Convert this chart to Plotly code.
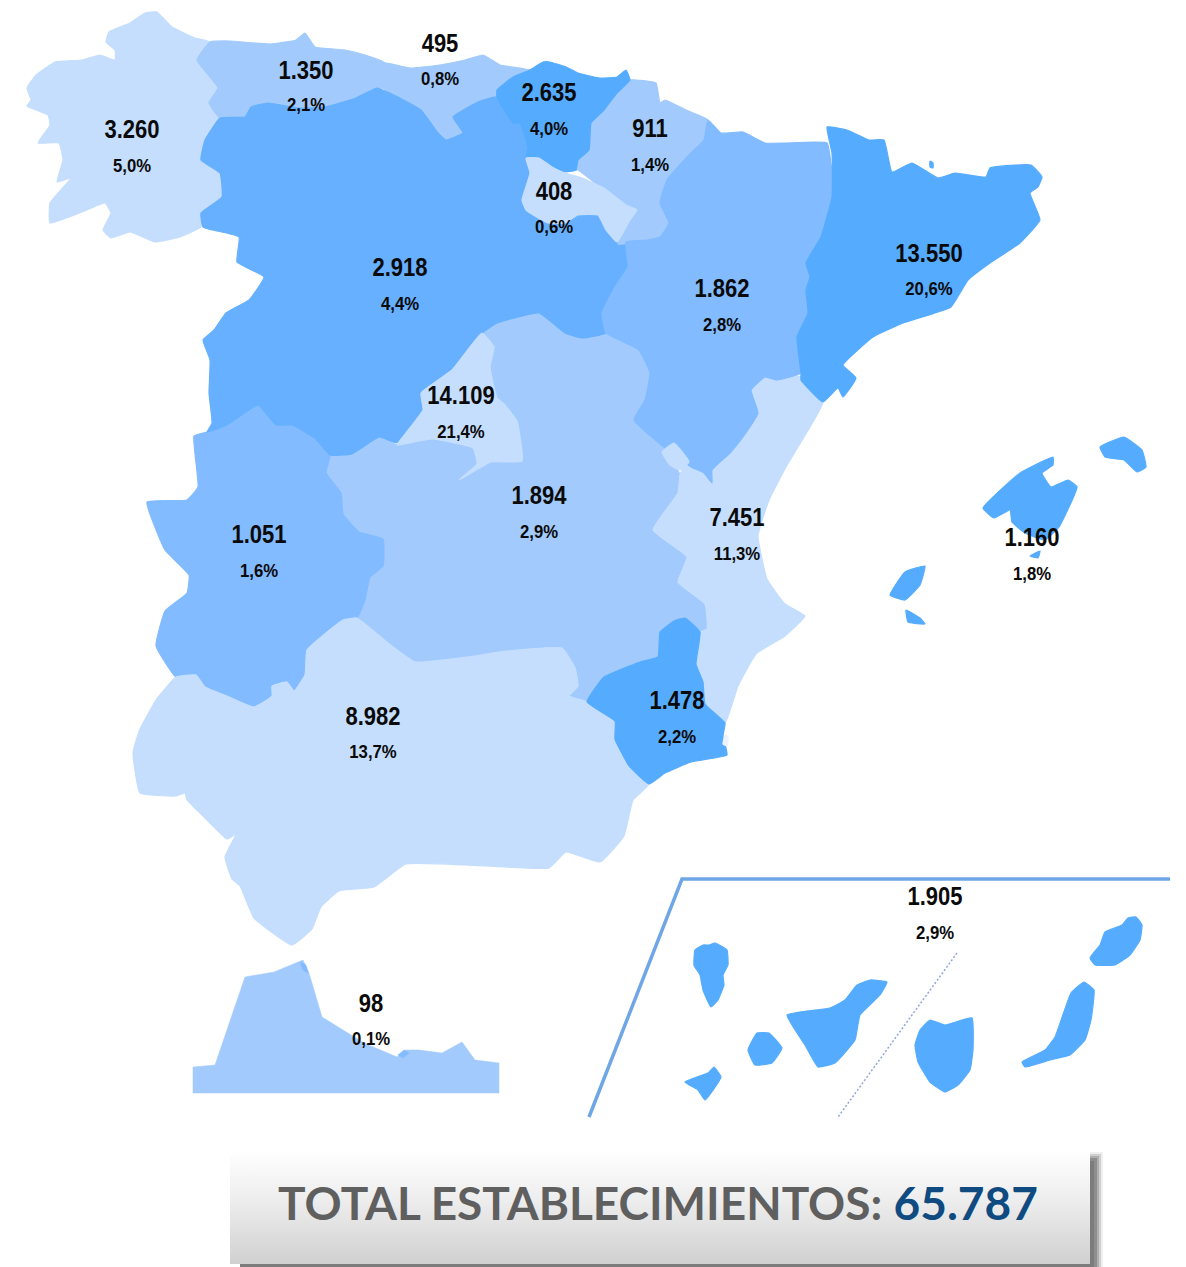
import plotly.graph_objects as go

# ---- values ----
regions = ["Galicia", "Asturias", "Cantabria", "País Vasco", "Navarra", "La Rioja", "Castilla y León",
           "Aragón", "Cataluña", "Madrid", "Castilla-La Mancha", "Extremadura", "C. Valenciana",
           "Baleares", "Murcia", "Andalucía", "Ceuta y Melilla", "Canarias"]
value_labels = ["3.260", "1.350", "495", "2.635", "911", "408", "2.918", "1.862", "13.550", "14.109",
                "1.894", "1.051", "7.451", "1.160", "1.478", "8.982", "98", "1.905"]
share_labels = ["5,0%", "2,1%", "0,8%", "4,0%", "1,4%", "0,6%", "4,4%", "2,8%", "20,6%", "21,4%",
                "2,9%", "1,6%", "11,3%", "1,8%", "2,2%", "13,7%", "0,1%", "2,9%"]
label_x = [132, 306, 440, 549, 650, 554, 400, 722, 929, 461, 539, 259, 737, 1032, 677, 373, 371, 935]
value_y = [132, 73, 46, 95, 131, 194, 270, 291, 256, 398, 498, 537, 520, 540, 703, 719, 1006, 899]
share_y = [167, 106, 80, 130, 166, 228, 305, 326, 290, 433, 533, 572, 555, 575, 738, 753, 1040, 934]

total_label = "TOTAL ESTABLECIMIENTOS:"
total_value = "65.787"

# ---- outlines in the picture's own units ----
galicia = [(157,12),(145,13),(130,23),(109,32),(106,42),(115,50),(115,60),(100,55),(82,60),(55,62),(36,75),(27,88),(31,100),(27,106),(48,115),(50,125),(38,143),(59,143),(63,160),(57,182),(71,178),(50,203),(50,223),(82,212),(105,203),(111,213),(103,230),(111,238),(130,232),(155,242),(180,237),(201,227),(201,213),(222,197),(220,173),(201,160),(205,140),(220,118),(209,103),(218,88),(197,60),(210,42),(195,38),(172,27)]
asturias = [(197,60),(210,42),(230,41),(270,44),(296,40),(305,33),(315,47),(345,50),(365,55),(385,63),(383,88),(377,88),(356,98),(325,107),(298,108),(268,103),(251,107),(245,117),(220,118),(209,103),(218,88)]
cantabria = [(383,63),(410,68),(440,65),(465,60),(483,55),(500,65),(530,70),(513,77),(497,90),(497,97),(478,102),(453,117),(463,133),(446,140),(438,133),(421,110),(398,97),(383,88)]
pais_vasco = [(530,70),(543,62),(550,62),(566,67),(578,73),(600,78),(617,77),(626,70),(630,80),(617,93),(604,110),(591,123),(589,150),(578,160),(576,170),(563,172),(552,167),(539,158),(526,158),(528,147),(520,123),(513,123),(497,97),(497,90),(513,77)]
navarra = [(630,80),(656,83),(660,103),(665,100),(686,110),(708,120),(704,140),(691,153),(667,180),(660,203),(669,223),(660,237),(647,240),(618,244),(630,215),(626,205),(604,190),(578,170),(576,170),(578,160),(589,150),(591,123),(604,110),(617,93)]
rioja = [(526,158),(539,158),(552,167),(565,173),(582,178),(604,188),(626,205),(637,210),(630,220),(617,242),(606,230),(598,215),(578,215),(565,223),(548,223),(526,210),(522,200),(530,173)]
cyl = [(220,118),(245,117),(251,107),(268,103),(298,108),(325,107),(356,98),(377,88),(398,97),(421,110),(438,133),(446,140),(463,133),(453,117),(478,102),(497,97),(513,123),(520,123),(528,147),(526,158),(530,173),(522,200),(526,210),(548,223),(565,223),(578,215),(598,215),(606,230),(617,242),(626,242),(628,267),(615,287),(602,313),(606,333),(582,338),(565,333),(539,313),(497,323),(482,333),(452,370),(421,393),(423,410),(398,443),(379,437),(352,454),(330,455),(316,439),(292,425),(276,425),(258,405),(227,425),(207,432),(212,423),(209,393),(210,360),(203,340),(214,330),(226,313),(249,300),(264,277),(237,262),(239,237),(203,227),(201,213),(222,197),(220,173),(201,160),(205,140)]
aragon = [(708,120),(721,133),(743,132),(765,143),(786,143),(827,143),(832,173),(832,197),(821,237),(806,263),(810,277),(806,290),(808,313),(797,337),(801,373),(777,380),(765,377),(751,390),(758,413),(743,437),(730,453),(712,470),(712,483),(704,473),(691,467),(665,448),(634,420),(645,400),(650,373),(639,350),(606,333),(602,313),(615,287),(628,267),(626,242),(647,240),(660,237),(669,223),(660,203),(667,180),(691,153),(704,140)]
cataluna = [(827,127),(847,130),(869,140),(884,140),(892,172),(912,163),(938,178),(955,173),(986,177),(990,168),(1031,165),(1042,177),(1038,187),(1030,193),(1040,220),(1020,243),(990,263),(968,280),(951,307),(903,323),(873,337),(843,365),(856,378),(843,397),(838,388),(823,402),(801,380),(801,373),(797,337),(808,313),(806,290),(810,277),(806,263),(821,237),(832,197),(832,153)]
medes = [(930,161),(933,163),(933,168),(930,167)]
madrid = [(482,333),(494,347),(490,367),(497,398),(504,404),(517,421),(522,461),(491,462),(459,480),(477,464),(473,448),(432,439),(397,445),(398,443),(423,410),(421,393),(452,370)]
clm = [(397,445),(379,437),(352,454),(330,455),(326,473),(341,493),(343,514),(359,532),(383,539),(383,566),(370,577),(365,600),(357,618),(388,643),(415,662),(468,657),(499,652),(562,648),(575,668),(578,686),(569,696),(587,702),(604,677),(640,662),(658,657),(660,632),(674,621),(685,618),(700,632),(707,629),(705,604),(678,582),(687,557),(653,530),(678,493),(680,475),(665,448),(634,420),(645,400),(650,373),(639,350),(606,333),(582,338),(565,333),(539,313),(497,323),(482,333),(470,370),(450,420)]
extremadura = [(258,405),(276,425),(292,425),(316,439),(330,455),(326,473),(341,493),(343,514),(359,532),(383,539),(383,566),(370,577),(365,600),(357,618),(343,620),(307,650),(305,675),(294,691),(287,682),(272,686),(272,696),(254,707),(227,696),(205,687),(196,675),(176,677),(156,646),(165,611),(187,593),(189,575),(165,550),(147,502),(187,500),(198,487),(194,436),(207,432),(227,425)]
valencia = [(801,377),(823,402),(804,437),(786,467),(769,500),(758,536),(767,579),(785,604),(805,616),(785,636),(756,654),(738,686),(725,723),(705,704),(703,682),(696,664),(700,632),(707,629),(705,604),(678,582),(687,557),(653,530),(678,493),(680,475),(686,462),(705,462),(730,445),(743,430),(750,410),(751,390),(765,372),(777,375)]
ademuz = [(662,452),(674,443),(689,462),(680,470),(670,465)]
murcia = [(685,618),(700,632),(696,664),(703,682),(705,704),(725,723),(723,736),(727,755),(691,762),(665,773),(649,784),(629,766),(615,739),(615,721),(587,702),(604,677),(640,662),(658,657),(660,632),(674,621)]
mar_menor = [(725,735),(728,737),(727,746),(723,744)]
andalucia = [(176,677),(156,700),(140,729),(133,752),(140,793),(176,796),(185,793),(187,800),(205,818),(227,839),(236,834),(225,857),(232,879),(240,886),(254,918),(292,945),(312,929),(321,907),(339,891),(374,887),(406,864),(486,866),(549,868),(566,852),(600,862),(624,836),(633,800),(649,784),(629,766),(615,739),(615,721),(587,702),(569,696),(578,686),(575,668),(562,648),(499,652),(468,657),(415,662),(388,643),(357,618),(343,620),(307,650),(305,675),(294,691),(287,682),(272,686),(272,696),(254,707),(227,696),(205,687),(196,675)]
ceuta_melilla = [(193,1067),(215,1065),(245,977),(274,972),(303,960),(309,973),(322,1017),(364,1043),(397,1057),(405,1050),(419,1050),(442,1053),(462,1042),(475,1060),(499,1063),(499,1093),(193,1093)]
ceuta_spot = [(300,962),(306,965),(308,973),(303,970)]
melilla_spot = [(398,1055),(404,1050),(409,1053),(403,1058)]
mallorca = [(1053,457),(1020,473),(983,508),(994,518),(1010,510),(1012,522),(1025,533),(1045,540),(1059,527),(1077,487),(1068,480),(1051,487),(1042,473),(1053,465)]
menorca = [(1100,447),(1124,437),(1142,450),(1146,467),(1137,472),(1124,460),(1105,457)]
ibiza = [(890,595),(905,572),(925,566),(920,585),(905,600)]
formentera = [(906,610),(920,618),(925,624),(908,622)]
cabrera = [(1030,556),(1040,551),(1038,558)]
la_palma = [(695,950),(703,945),(709,945),(715,943),(727,950),(728,965),(723,975),(724,985),(718,1000),(711,1007),(703,990),(700,975),(694,965)]
el_hierro = [(685,1082),(708,1073),(714,1067),(721,1077),(705,1100),(698,1090)]
la_gomera = [(757,1033),(769,1033),(782,1048),(772,1063),(755,1065),(748,1050)]
tenerife = [(787,1015),(830,1008),(845,1000),(857,985),(870,980),(887,982),(880,995),(860,1015),(855,1040),(835,1063),(818,1067),(805,1045)]
gran_canaria = [(930,1020),(945,1025),(972,1018),(973,1050),(970,1070),(958,1085),(945,1092),(930,1082),(918,1062),(915,1045),(920,1030)]
fuerteventura = [(1084,982),(1094,990),(1091,1020),(1085,1040),(1070,1055),(1050,1060),(1025,1067),(1022,1062),(1045,1050),(1055,1037),(1071,993)]
lanzarote = [(1136,917),(1142,925),(1140,940),(1130,955),(1115,965),(1095,965),(1090,958),(1100,945),(1105,932),(1122,925),(1128,918)]
inset_frame = [(589,1117),(682,879),(1170,879)]
inset_divider = [(957,953),(838,1117)]
panel = [(230,1150),(1090,1150),(1090,1264),(230,1264)]

TONE1, TONE2, TONE3, TONE4, TONE5 = "#C5DEFE", "#A2CAFD", "#82BBFF", "#66B0FF", "#55ACFF"
shapes_in_order = [
    (clm, TONE2), (extremadura, TONE3), (andalucia, TONE1), (galicia, TONE1), (asturias, TONE2),
    (cantabria, TONE2), (cyl, TONE4), (valencia, TONE1), (navarra, TONE2), (aragon, TONE3), (cataluna, TONE5),
    (medes, TONE5), (pais_vasco, TONE5), (rioja, TONE1), (madrid, TONE1), (ademuz, TONE1),
    (murcia, TONE5), (mar_menor, "#EAF3FF"), (mallorca, TONE5), (menorca, TONE5), (ibiza, TONE5), (formentera, TONE5),
    (cabrera, TONE5), (la_palma, TONE5), (el_hierro, TONE5), (la_gomera, TONE5),
    (tenerife, TONE5), (gran_canaria, TONE5), (fuerteventura, TONE5), (lanzarote, TONE5),
]

fig = go.Figure()


def closed(points):
    pts = list(points) + [points[0]]
    return [p[0] for p in pts], [p[1] for p in pts]


for outline, tone in shapes_in_order:
    xs, ys = closed(outline)
    fig.add_trace(go.Scatter(x=xs, y=ys, mode="lines", fill="toself", fillcolor=tone,
                             line=dict(color=tone, width=1.2, shape="spline", smoothing=0.35),
                             hoverinfo="skip", showlegend=False))
xs, ys = closed(ceuta_melilla)
fig.add_trace(go.Scatter(x=xs, y=ys, mode="lines", fill="toself", fillcolor=TONE2,
                         line=dict(color=TONE2, width=0.5), hoverinfo="skip", showlegend=False))
for spot in (ceuta_spot, melilla_spot):
    xs, ys = closed(spot)
    fig.add_trace(go.Scatter(x=xs, y=ys, mode="lines", fill="toself", fillcolor=TONE3,
                             line=dict(color=TONE3, width=0.5), hoverinfo="skip", showlegend=False))

fig.add_trace(go.Scatter(x=[p[0] for p in inset_frame], y=[p[1] for p in inset_frame], mode="lines",
                         line=dict(color="#6FA6E6", width=3.5), hoverinfo="skip", showlegend=False))
fig.add_trace(go.Scatter(x=[p[0] for p in inset_divider], y=[p[1] for p in inset_divider], mode="lines",
                         line=dict(color="#8FA6DC", width=1.5, dash="2px,2px"), hoverinfo="skip", showlegend=False))

# panel with its soft shadow
for grow, tint in zip([13, 11, 9, 7, 4], ["#EFEFEF", "#D0D0D0", "#AEAEAE", "#8E8E8E", "#7C7C7C"]):
    fig.add_shape(type="rect", x0=240, x1=1090 + grow, y0=1165 - grow, y1=1268,
                  fillcolor=tint, line_width=0, layer="below")
xs, ys = closed(panel)
fig.add_trace(go.Scatter(x=xs, y=ys, mode="lines", fill="toself", line=dict(width=0),
                         fillgradient=dict(type="vertical",
                                           colorscale=[[0, "#D0D0D0"], [0.55, "#EDEDED"], [0.88, "#FAFAFA"], [1, "#FFFFFF"]]),
                         hoverinfo="skip", showlegend=False))

LABEL_FONT = "Liberation Sans"
fig.add_trace(go.Scatter(x=label_x, y=value_y, mode="text", text=value_labels,
                         textfont=dict(family=LABEL_FONT, size=25, color="#0A0A0A", weight="bold"),
                         hoverinfo="skip", showlegend=False))
fig.add_trace(go.Scatter(x=label_x, y=share_y, mode="text", text=share_labels,
                         textfont=dict(family=LABEL_FONT, size=19, color="#0A0A0A", weight="bold"),
                         hoverinfo="skip", showlegend=False))
total_text = f"{total_label}\u00a0<span style='fill:#0F4A80;color:#0F4A80'>{total_value}</span>"
fig.add_trace(go.Scatter(x=[658], y=[1208], mode="text", text=[total_text],
                         textfont=dict(family="Lato", size=46, color="#5F5F5F", weight="bold"),
                         hoverinfo="skip", showlegend=False))

fig.update_layout(width=1186, height=1267, margin=dict(l=0, r=0, t=0, b=0),
                  paper_bgcolor="white", plot_bgcolor="white", showlegend=False,
                  xaxis=dict(range=[0, 1186], visible=False, fixedrange=True),
                  yaxis=dict(range=[1267, 0], visible=False, fixedrange=True))

# the reference's small labels are condensed: squeeze the real text horizontally
squeeze = """
document.body.style.margin='0';document.documentElement.style.overflow='hidden';
document.querySelectorAll('.textpoint text').forEach(function(t){
  if (parseFloat(t.style.fontSize) > 40) return;
  t.setAttribute('textLength', t.getComputedTextLength() * 0.88);
  t.setAttribute('lengthAdjust', 'spacingAndGlyphs');
});
"""
fig.write_html("out.html", config={"displayModeBar": False}, post_script=squeeze)
